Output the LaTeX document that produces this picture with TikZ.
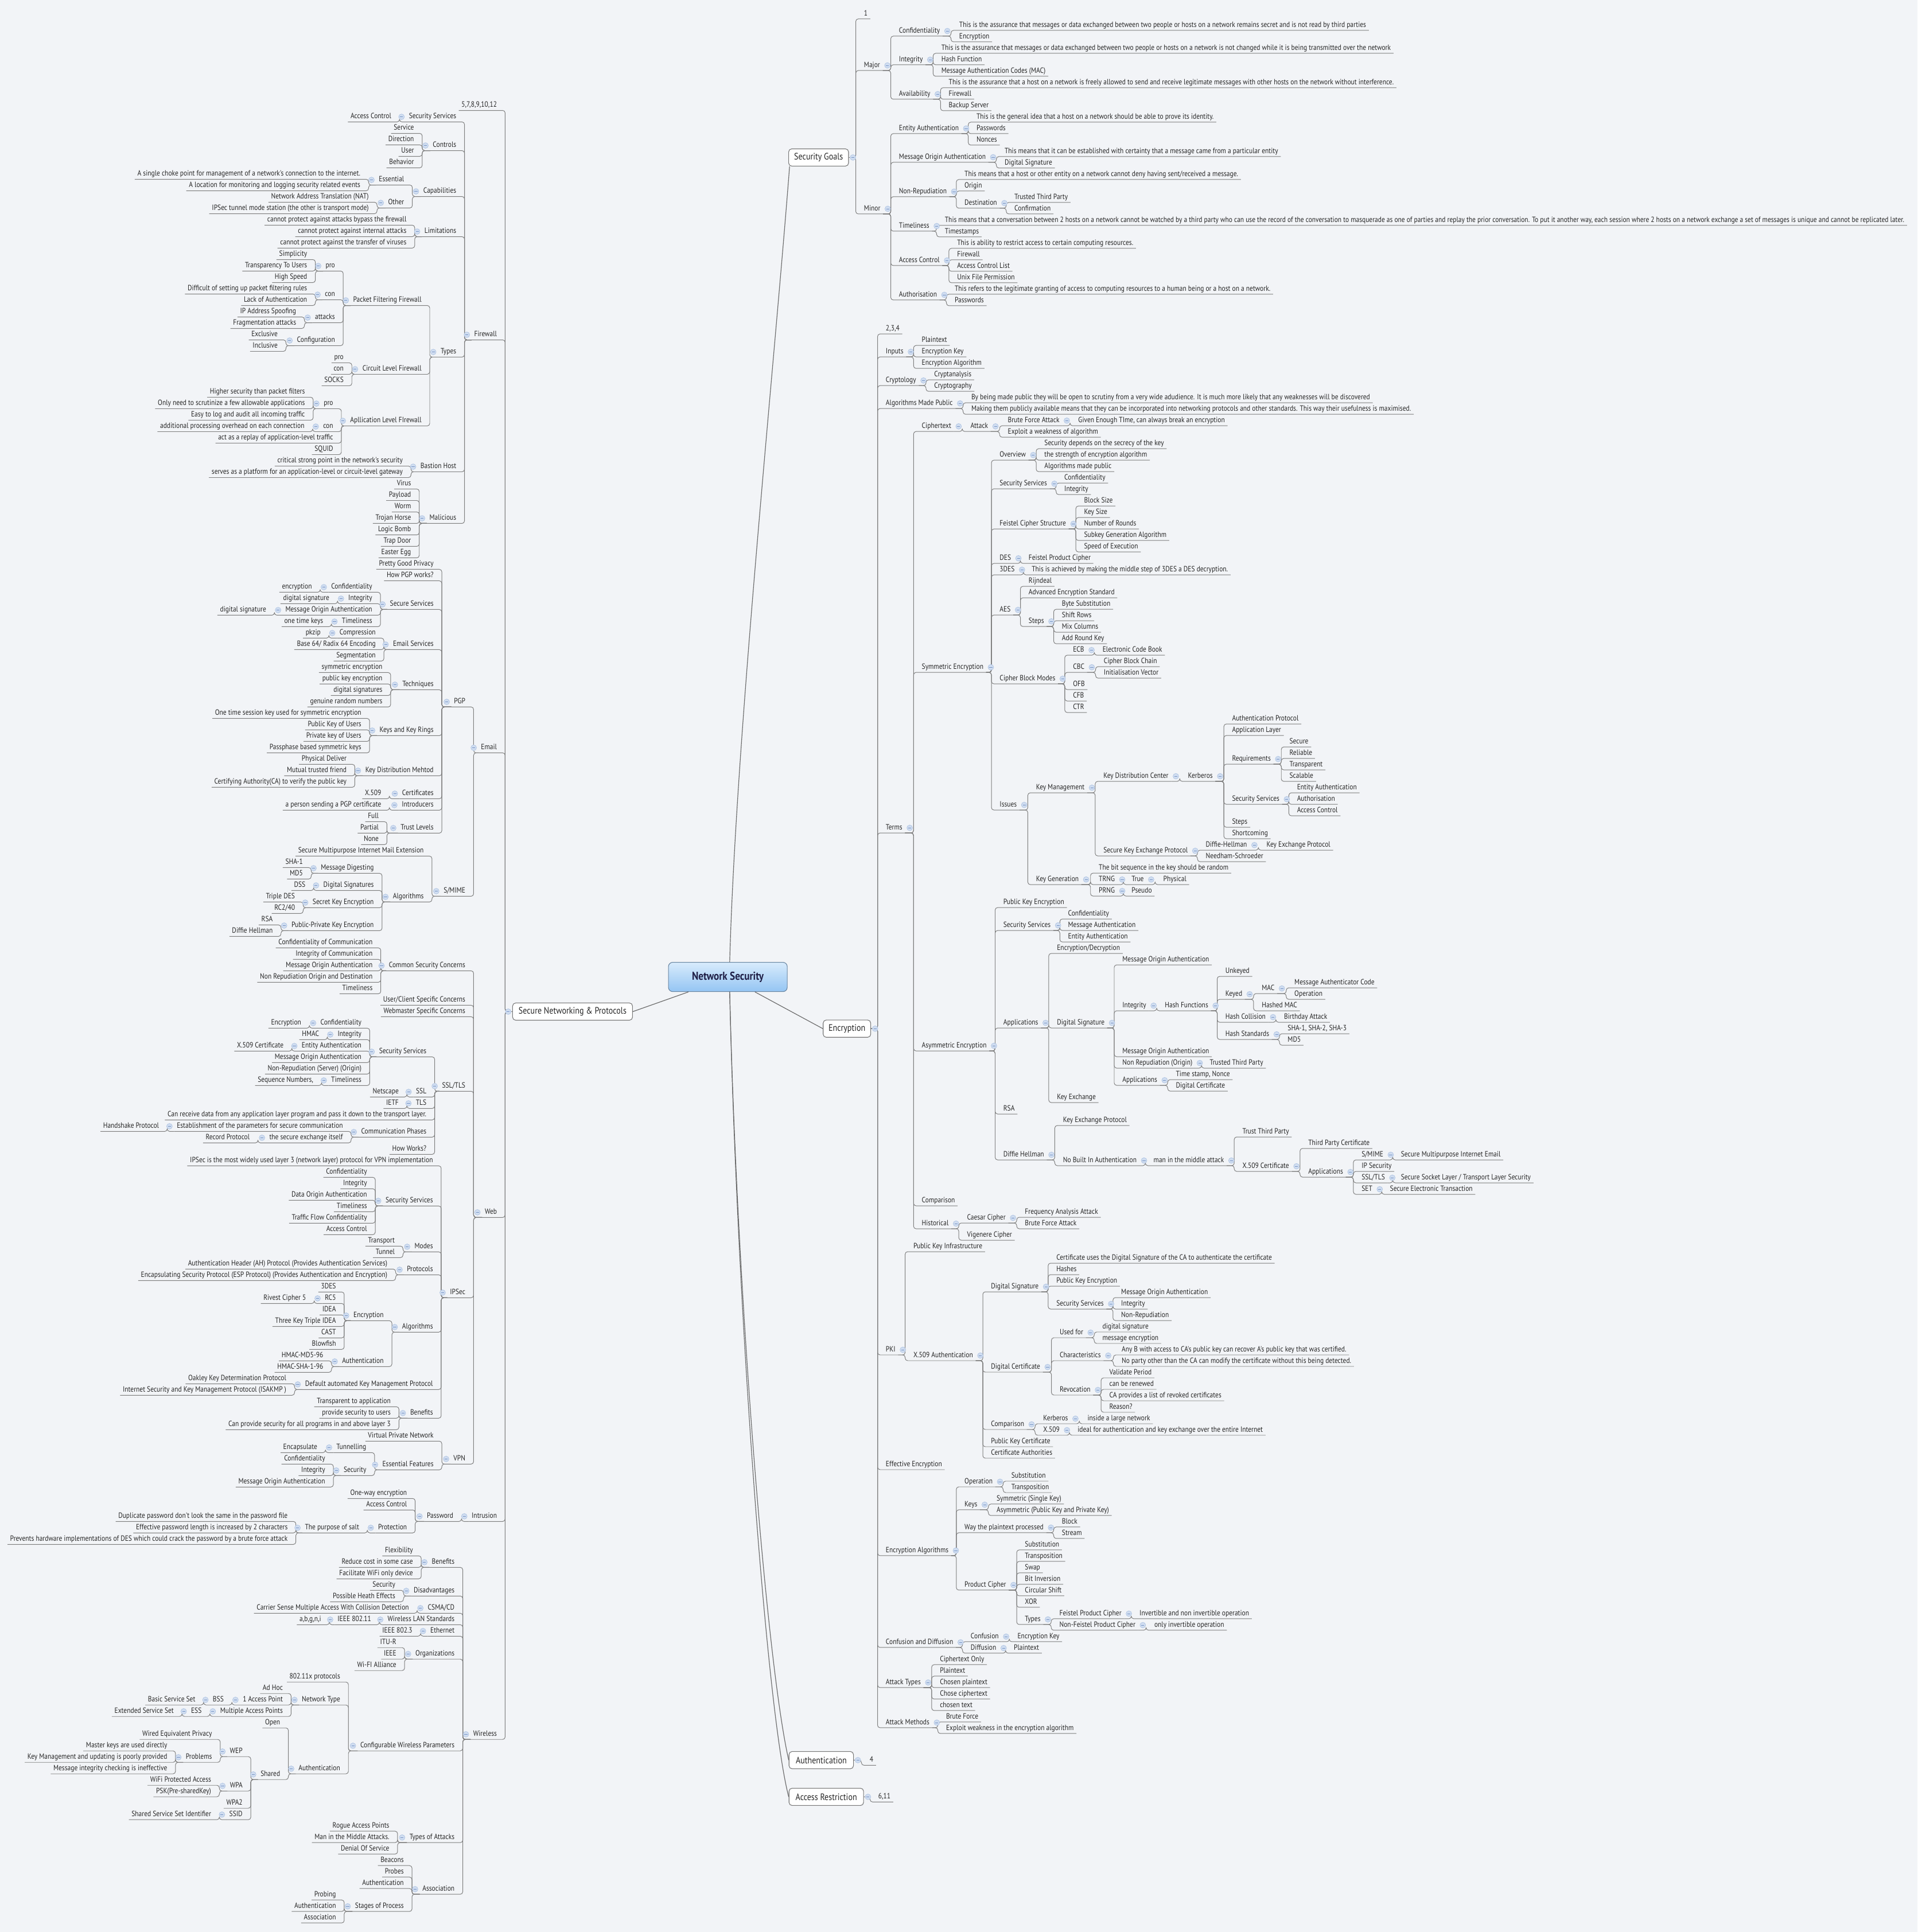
\documentclass[tikz,border=0pt]{standalone}
\usepackage{fontspec}
\usepackage{tikz}

\newfontfamily\mapfont{PT Sans}[FakeStretch=0.8616]

\definecolor{paper}{RGB}{242,244,247}
\definecolor{ink}{RGB}{38,38,38}
\definecolor{wirec}{RGB}{125,125,125}
\definecolor{knobfill}{RGB}{208,221,240}
\definecolor{knobedge}{RGB}{172,194,226}
\definecolor{knobbar}{RGB}{118,148,198}
\definecolor{nstop}{RGB}{216,235,252}
\definecolor{nsbot}{RGB}{148,197,243}
\definecolor{nsedge}{RGB}{104,132,160}
\definecolor{boxedge}{RGB}{118,118,118}

\newcommand{\leaffont}{\mapfont\fontsize{6.2}{7}\selectfont}

\tikzset{
  leaf/.style={inner xsep=2pt, inner ysep=1.2pt, text height=4.3pt, text depth=1.2pt, font=\leaffont, text=ink},
  rt/.style={leaf, anchor=west, xshift=-2pt},
  lt/.style={leaf, anchor=east, xshift=2pt},
  wire/.style={draw=wirec, line width=0.45pt, rounded corners=2pt},
  stem/.style={draw=wirec!85!black, line width=0.55pt},
  topic/.style={draw=boxedge, fill=white, rounded corners=2.5pt, line width=0.5pt, minimum height=14pt, inner sep=0pt, font=\mapfont\fontsize{7.6}{9}\selectfont, text=ink},
  hub/.style={draw=nsedge, top color=nstop, bottom color=nsbot, rounded corners=3.5pt, line width=0.5pt, minimum width=96.4pt, minimum height=23.8pt, font=\mapfont\bfseries\fontsize{9.3}{11}\selectfont, text=ink!85!blue},
  knob/.pic={\filldraw[fill=knobfill, draw=knobedge, line width=0.3pt] (0,0) circle (2.3pt);
             \draw[knobbar, line width=0.35pt] (-1.2pt,0pt) -- (1.2pt,0pt);}
}

% parent to children, elbow lines
\newcommand{\branchR}[2]{\foreach \kid in {#2} \draw[wire] (#1.south east) -| ([xshift=-4.5pt]\kid.south west) -- (\kid.south east);}
\newcommand{\branchL}[2]{\foreach \kid in {#2} \draw[wire] (#1.south west) -| ([xshift=4.5pt]\kid.south east) -- (\kid.south west);}

\begin{document}
\begin{tikzpicture}[x=1pt, y=-1pt]

\path[use as bounding box, fill=paper] (0,0) rectangle (1556,1568);

% main topics
\node[hub] (ns) at (590.6,792.9) {Network Security};
\node[topic, anchor=west, minimum width=48.6pt] (sg) at (639.7,127.8) {Security Goals};
\node[topic, anchor=west, minimum width=38.6pt] (enc) at (667.7,834.85) {Encryption};
\node[topic, anchor=east, minimum width=97.3pt] (snp) at (513.5,821) {Secure Networking \& Protocols};
\node[topic, anchor=west, minimum width=52.3pt] (auth) at (640,1428.5) {Authentication};
\node[topic, anchor=west, minimum width=60.5pt] (acr) at (640,1458.3) {Access Restriction};

\coordinate (sgp) at (sg.east);
\coordinate (encp) at (enc.east);
\coordinate (snpp) at (snp.west);
\coordinate (authp) at (auth.east);
\coordinate (acrp) at (acr.east);

% lines from the centre
\draw[stem] ([xshift=1.5pt]ns.north) .. controls (597,600) and (628,300) .. ([xshift=1pt]sg.south west);
\draw[stem] ([xshift=22pt]ns.south) -- (enc.west);
\draw[stem] ([xshift=-32pt]ns.south) -- (snp.east);
\draw[stem] ([xshift=1.5pt]ns.south) .. controls (598,1050) and (622,1350) .. (auth.west);
\draw[stem] ([xshift=1.5pt]ns.south) .. controls (598,1060) and (622,1390) .. (acr.west);

% ---------------- Security Goals ----------------
\begin{scope}[yshift=-11.2pt, y=-9.31pt]
  \node[rt] (g1)     at (700.9,0)    {1};
  \node[rt] (gmaj)   at (700.9,4.5)  {Major};
  \node[rt] (gconf)  at (729.3,1.5)  {Confidentiality};
  \node[rt] (gconfa) at (778.2,1)    {This is the assurance that messages or data exchanged between two people or hosts on a network remains secret and is not read by third parties};
  \node[rt] (gconfb) at (778.2,2)    {Encryption};
  \node[rt] (ginteg) at (729.3,4)    {Integrity};
  \node[rt] (gintega) at (763.7,3)   {This is the assurance that messages or data exchanged between two people or hosts on a network is not changed while it is being transmitted over the network};
  \node[rt] (gintegb) at (763.7,4)   {Hash Function};
  \node[rt] (gintegc) at (763.7,5)   {Message Authentication Codes (MAC)};
  \node[rt] (gavail) at (729.3,7)    {Availability};
  \node[rt] (gavaila) at (769.7,6)   {This is the assurance that a host on a network is freely allowed to send and receive legitimate messages with other hosts on the network without interference.};
  \node[rt] (gavailb) at (769.7,7)   {Firewall};
  \node[rt] (gavailc) at (769.7,8)   {Backup Server};
  \node[rt] (gmin)   at (700.9,17)   {Minor};
  \node[rt] (gent)   at (729.3,10)   {Entity Authentication};
  \node[rt] (genta)  at (792.2,9)    {This is the general idea that a host on a network should be able to prove its identity.};
  \node[rt] (gentb)  at (792.2,10)   {Passwords};
  \node[rt] (gentc)  at (792.2,11)   {Nonces};
  \node[rt] (gmoa)   at (729.3,12.5) {Message Origin Authentication};
  \node[rt] (gmoaa)  at (815,12)     {This means that it can be established with certainty that a message came from a particular entity};
  \node[rt] (gmoab)  at (815,13)     {Digital Signature};
  \node[rt] (gnr)    at (729.3,15.5) {Non-Repudiation};
  \node[rt] (gnra)   at (782.5,14)   {This means that a host or other entity on a network cannot deny having sent/received a message.};
  \node[rt] (gnrb)   at (782.5,15)   {Origin};
  \node[rt] (gdest)  at (782.5,16.5) {Destination};
  \node[rt] (gdesta) at (823,16)     {Trusted Third Party};
  \node[rt] (gdestb) at (823,17)     {Confirmation};
  \node[rt] (gtim)   at (729.3,18.5) {Timeliness};
  \node[rt] (gtima)  at (766.5,18)   {This means that a conversation between 2 hosts on a network cannot be watched by a third party who can use the record of the conversation to masquerade as one of parties and replay the prior conversation. To put it another way, each session where 2 hosts on a network exchange a set of messages is unique and cannot be replicated later.};
  \node[rt] (gtimb)  at (766.5,19)   {Timestamps};
  \node[rt] (gac)    at (729.3,21.5) {Access Control};
  \node[rt] (gaca)   at (776.5,20)   {This is ability to restrict access to certain computing resources.};
  \node[rt] (gacb)   at (776.5,21)   {Firewall};
  \node[rt] (gacc)   at (776.5,22)   {Access Control List};
  \node[rt] (gacd)   at (776.5,23)   {Unix File Permission};
  \node[rt] (gaut)   at (729.3,24.5) {Authorisation};
  \node[rt] (gauta)  at (774.5,24)   {This refers to the legitimate granting of access to computing resources to a human being or a host on a network.};
  \node[rt] (gautb)  at (774.5,25)   {Passwords};
\end{scope}

% ---------------- Encryption ----------------
\begin{scope}[yshift=-266.9pt, y=-9.31pt]
  \node[rt] (e234)  at (718.6,0)   {2,3,4};
  \node[rt] (einp)  at (718.6,2)   {Inputs};
  \node[rt] (einpa) at (747.8,1)   {Plaintext};
  \node[rt] (einpb) at (747.8,2)   {Encryption Key};
  \node[rt] (einpc) at (747.8,3)   {Encryption Algorithm};
  \node[rt] (ecry)  at (718.6,4.5) {Cryptology};
  \node[rt] (ecrya) at (757.9,4)   {Cryptanalysis};
  \node[rt] (ecryb) at (757.9,5)   {Cryptography};
  \node[rt] (eamp)  at (718.6,6.5) {Algorithms Made Public};
  \node[rt] (eampa) at (788,6)     {By being made public they will be open to scrutiny from a very wide adudience. It is much more likely that any weaknesses will be discovered};
  \node[rt] (eampb) at (788,7)     {Making them publicly available means that they can be incorporated into networking protocols and other standards. This way their usefulness is maximised.};
  \node[rt] (eterm) at (718.6,43.5) {Terms};
  % ciphertext
  \node[rt] (ecip)  at (747.8,8.5) {Ciphertext};
  \node[rt] (eatt)  at (787.3,8.5) {Attack};
  \node[rt] (ebfa)  at (817.6,8)   {Brute Force Attack};
  \node[rt] (ebfaa) at (874.8,8)   {Given Enough TIme, can always break an encryption};
  \node[rt] (eexp)  at (817.6,9)   {Exploit a weakness of algorithm};
  % symmetric
  \node[rt] (esym)  at (747.8,29.5) {Symmetric Encryption};
  \node[rt] (eov)   at (811,11)    {Overview};
  \node[rt] (eova)  at (847.3,10)  {Security depends on the secrecy of the key};
  \node[rt] (eovb)  at (847.3,11)  {the strength of encryption algorithm};
  \node[rt] (eovc)  at (847.3,12)  {Algorithms made public};
  \node[rt] (ess)   at (811,13.5)  {Security Services};
  \node[rt] (essa)  at (863.5,13)  {Confidentiality};
  \node[rt] (essb)  at (863.5,14)  {Integrity};
  \node[rt] (efei)  at (811,17)    {Feistel Cipher Structure};
  \node[rt] (efeia) at (879.5,15)  {Block Size};
  \node[rt] (efeib) at (879.5,16)  {Key Size};
  \node[rt] (efeic) at (879.5,17)  {Number of Rounds};
  \node[rt] (efeid) at (879.5,18)  {Subkey Generation Algorithm};
  \node[rt] (efeie) at (879.5,19)  {Speed of Execution};
  \node[rt] (edes)  at (811,20)    {DES};
  \node[rt] (edesa) at (834.5,20)  {Feistel Product Cipher};
  \node[rt] (e3des) at (811,21)    {3DES};
  \node[rt] (e3desa) at (837,21)   {This is achieved by making the middle step of 3DES a DES decryption.};
  \node[rt] (eaes)  at (811,24.5)  {AES};
  \node[rt] (eaesa) at (834.5,22)  {Rijndeal};
  \node[rt] (eaesb) at (834.5,23)  {Advanced Encryption Standard};
  \node[rt] (estep) at (834.5,25.5) {Steps};
  \node[rt] (estepa) at (861.5,24) {Byte Substitution};
  \node[rt] (estepb) at (861.5,25) {Shift Rows};
  \node[rt] (estepc) at (861.5,26) {Mix Columns};
  \node[rt] (estepd) at (861.5,27) {Add Round Key};
  \node[rt] (ecbm)  at (811,30.5)  {Cipher Block Modes};
  \node[rt] (eecb)  at (870.5,28)  {ECB};
  \node[rt] (eecba) at (894.5,28)  {Electronic Code Book};
  \node[rt] (ecbc)  at (870.5,29.5) {CBC};
  \node[rt] (ecbca) at (895.5,29)  {Cipher Block Chain};
  \node[rt] (ecbcb) at (895.5,30)  {Initialisation Vector};
  \node[rt] (eofb)  at (870.5,31)  {OFB};
  \node[rt] (ecfb)  at (870.5,32)  {CFB};
  \node[rt] (ectr)  at (870.5,33)  {CTR};
  \node[rt] (eiss)  at (811,41.5)  {Issues};
  \node[rt] (ekm)   at (840.5,40)  {Key Management};
  \node[rt] (ekdc)  at (895.2,39)  {Key Distribution Center};
  \node[rt] (ekrb)  at (963.8,39)  {Kerberos};
  \node[rt] (ekrba) at (999.6,34)  {Authentication Protocol};
  \node[rt] (ekrbb) at (999.6,35)  {Application Layer};
  \node[rt] (ereq)  at (999.6,37.5) {Requirements};
  \node[rt] (ereqa) at (1046.2,36) {Secure};
  \node[rt] (ereqb) at (1046.2,37) {Reliable};
  \node[rt] (ereqc) at (1046.2,38) {Transparent};
  \node[rt] (ereqd) at (1046.2,39) {Scalable};
  \node[rt] (ekss)  at (999.6,41)  {Security Services};
  \node[rt] (ekssa) at (1052.3,40) {Entity Authentication};
  \node[rt] (ekssb) at (1052.3,41) {Authorisation};
  \node[rt] (ekssc) at (1052.3,42) {Access Control};
  \node[rt] (ekrbc) at (999.6,43)  {Steps};
  \node[rt] (ekrbd) at (999.6,44)  {Shortcoming};
  \node[rt] (eske)  at (895.2,45.5) {Secure Key Exchange Protocol};
  \node[rt] (edh)   at (978.2,45)  {Diffie-Hellman};
  \node[rt] (edha)  at (1027.6,45) {Key Exchange Protocol};
  \node[rt] (enee)  at (978.2,46)  {Needham-Schroeder};
  \node[rt] (ekg)   at (840.5,48)  {Key Generation};
  \node[rt] (ekga)  at (891.4,47)  {The bit sequence in the key should be random};
  \node[rt] (etrng) at (891.4,48)  {TRNG};
  \node[rt] (etrue) at (918.1,48)  {True};
  \node[rt] (ephys) at (943.8,48)  {Physical};
  \node[rt] (eprng) at (891.4,49)  {PRNG};
  \node[rt] (epse)  at (918.1,49)  {Pseudo};
  % asymmetric
  \node[rt] (easym) at (747.8,62.5) {Asymmetric Encryption};
  \node[rt] (epke)  at (814,50)    {Public Key Encryption};
  \node[rt] (eass)  at (814,52)    {Security Services};
  \node[rt] (eassa) at (866.5,51)  {Confidentiality};
  \node[rt] (eassb) at (866.5,52)  {Message Authentication};
  \node[rt] (eassc) at (866.5,53)  {Entity Authentication};
  \node[rt] (eapp)  at (814,60.5)  {Applications};
  \node[rt] (eed)   at (857.5,54)  {Encryption/Decryption};
  \node[rt] (eds)   at (857.5,60.5) {Digital Signature};
  \node[rt] (edsa)  at (910.6,55)  {Message Origin Authentication};
  \node[rt] (eint)  at (910.6,59)  {Integrity};
  \node[rt] (ehf)   at (945.1,59)  {Hash Functions};
  \node[rt] (eunk)  at (994.2,56)  {Unkeyed};
  \node[rt] (ekey)  at (994.2,58)  {Keyed};
  \node[rt] (emac)  at (1023.7,57.5) {MAC};
  \node[rt] (emaca) at (1050.2,57) {Message Authenticator Code};
  \node[rt] (emacb) at (1050.2,58) {Operation};
  \node[rt] (ehmac) at (1023.7,59) {Hashed MAC};
  \node[rt] (ehc)   at (994.2,60)  {Hash Collision};
  \node[rt] (ehca)  at (1041.8,60) {Birthday Attack};
  \node[rt] (ehs)   at (994.2,61.5) {Hash Standards};
  \node[rt] (ehsa)  at (1044.7,61) {SHA-1, SHA-2, SHA-3};
  \node[rt] (ehsb)  at (1044.7,62) {MD5};
  \node[rt] (edsb)  at (910.6,63)  {Message Origin Authentication};
  \node[rt] (enr)   at (910.6,64)  {Non Repudiation (Origin)};
  \node[rt] (enra)  at (981.5,64)  {Trusted Third Party};
  \node[rt] (edsapp) at (910.6,65.5) {Applications};
  \node[rt] (edsappa) at (954,65)  {Time stamp, Nonce};
  \node[rt] (edsappb) at (954,66)  {Digital Certificate};
  \node[rt] (ekx)   at (857.5,67)  {Key Exchange};
  \node[rt] (ersa)  at (814,68)    {RSA};
  \node[rt] (edhm)  at (814,72)    {Diffie Hellman};
  \node[rt] (edhma) at (862.4,69)  {Key Exchange Protocol};
  \node[rt] (enba)  at (862.4,72.5) {No Built In Authentication};
  \node[rt] (emitm) at (935.9,72.5) {man in the middle attack};
  \node[rt] (ettp)  at (1008,70)   {Trust Third Party};
  \node[rt] (ex509) at (1008,73)   {X.509 Certificate};
  \node[rt] (ex509a) at (1061.4,71) {Third Party Certificate};
  \node[rt] (ex509app) at (1061.4,73.5) {Applications};
  \node[rt] (esmime) at (1104.7,72) {S/MIME};
  \node[rt] (esmimea) at (1136.6,72) {Secure Multipurpose Internet Email};
  \node[rt] (eips)  at (1104.7,73) {IP Security};
  \node[rt] (essl)  at (1104.7,74) {SSL/TLS};
  \node[rt] (essla) at (1136.6,74) {Secure Socket Layer / Transport Layer Security};
  \node[rt] (eset)  at (1104.7,75) {SET};
  \node[rt] (eseta) at (1127.7,75) {Secure Electronic Transaction};
  \node[rt] (ecmp)  at (747.8,76)  {Comparison};
  \node[rt] (ehist) at (747.8,78)  {Historical};
  \node[rt] (ecae)  at (784.5,77.5) {Caesar Cipher};
  \node[rt] (ecaea) at (831.5,77)  {Frequency Analysis Attack};
  \node[rt] (ecaeb) at (831.5,78)  {Brute Force Attack};
  \node[rt] (evig)  at (784.5,79)  {Vigenere Cipher};
  % PKI
  \node[rt] (epki)  at (718.6,89)  {PKI};
  \node[rt] (epkia) at (741,80)    {Public Key Infrastructure};
  \node[rt] (ex5a)  at (741,89.5)  {X.509 Authentication};
  \node[rt] (epds)  at (804,83.5)  {Digital Signature};
  \node[rt] (epdsa) at (857,81)    {Certificate uses the Digital Signature of the CA to authenticate the certificate};
  \node[rt] (epdsb) at (857,82)    {Hashes};
  \node[rt] (epdsc) at (857,83)    {Public Key Encryption};
  \node[rt] (epss)  at (857,85)    {Security Services};
  \node[rt] (epssa) at (909.6,84)  {Message Origin Authentication};
  \node[rt] (epssb) at (909.6,85)  {Integrity};
  \node[rt] (epssc) at (909.6,86)  {Non-Repudiation};
  \node[rt] (epdc)  at (804,90.5)  {Digital Certificate};
  \node[rt] (euse)  at (859.7,87.5) {Used for};
  \node[rt] (eusea) at (894.4,87)  {digital signature};
  \node[rt] (euseb) at (894.4,88)  {message encryption};
  \node[rt] (echr)  at (859.7,89.5) {Characteristics};
  \node[rt] (echra) at (910,89)    {Any B with access to CA's public key can recover A's public key that was certified.};
  \node[rt] (echrb) at (910,90)    {No party other than the CA can modify the certificate without this being detected.};
  \node[rt] (erev)  at (859.7,92.5) {Revocation};
  \node[rt] (ereva) at (900,91)    {Validate Period};
  \node[rt] (erevb) at (900,92)    {can be renewed};
  \node[rt] (erevc) at (900,93)    {CA provides a list of revoked certificates};
  \node[rt] (erevd) at (900,94)    {Reason?};
  \node[rt] (epcmp) at (804,95.5)  {Comparison};
  \node[rt] (epker) at (846.4,95)  {Kerberos};
  \node[rt] (epkera) at (882.3,95) {inside a large network};
  \node[rt] (epx)   at (846.4,96)  {X.509};
  \node[rt] (epxa)  at (874.3,96)  {ideal for authentication and key exchange over the entire Internet};
  \node[rt] (epkc)  at (804,97)    {Public Key Certificate};
  \node[rt] (epca)  at (804,98)    {Certificate Authorities};
  % the rest
  \node[rt] (eeff)  at (718.6,99)  {Effective Encryption};
  \node[rt] (ealg)  at (718.6,106.5) {Encryption Algorithms};
  \node[rt] (eop)   at (782.5,100.5) {Operation};
  \node[rt] (eopa)  at (820.5,100) {Substitution};
  \node[rt] (eopb)  at (820.5,101) {Transposition};
  \node[rt] (ekeys) at (782.5,102.5) {Keys};
  \node[rt] (ekeysa) at (808.5,102) {Symmetric (Single Key)};
  \node[rt] (ekeysb) at (808.5,103) {Asymmetric (Public Key and Private Key)};
  \node[rt] (eway)  at (782.5,104.5) {Way the plaintext processed};
  \node[rt] (ewaya) at (861.5,104) {Block};
  \node[rt] (ewayb) at (861.5,105) {Stream};
  \node[rt] (eprod) at (782.5,109.5) {Product Cipher};
  \node[rt] (eproda) at (831.5,106) {Substitution};
  \node[rt] (eprodb) at (831.5,107) {Transposition};
  \node[rt] (eprodc) at (831.5,108) {Swap};
  \node[rt] (eprodd) at (831.5,109) {Bit Inversion};
  \node[rt] (eprode) at (831.5,110) {Circular Shift};
  \node[rt] (eprodf) at (831.5,111) {XOR};
  \node[rt] (etyp)  at (831.5,112.5) {Types};
  \node[rt] (efpc)  at (859.5,112) {Feistel Product Cipher};
  \node[rt] (efpca) at (924.5,112) {Invertible and non invertible operation};
  \node[rt] (enfpc) at (859.5,113) {Non-Feistel Product Cipher};
  \node[rt] (enfpca) at (936.5,113) {only invertible operation};
  \node[rt] (ecd)   at (718.6,114.5) {Confusion and Diffusion};
  \node[rt] (econf) at (787.5,114) {Confusion};
  \node[rt] (econfa) at (825.5,114) {Encryption Key};
  \node[rt] (ediff) at (787.5,115) {Diffusion};
  \node[rt] (ediffa) at (822.5,115) {Plaintext};
  \node[rt] (eat)   at (718.6,118) {Attack Types};
  \node[rt] (eata)  at (762.5,116) {Ciphertext Only};
  \node[rt] (eatb)  at (762.5,117) {Plaintext};
  \node[rt] (eatc)  at (762.5,118) {Chosen plaintext};
  \node[rt] (eatd)  at (762.5,119) {Chose ciphertext};
  \node[rt] (eate)  at (762.5,120) {chosen text};
  \node[rt] (eam)   at (718.6,121.5) {Attack Methods};
  \node[rt] (eama)  at (767.5,121) {Brute Force};
  \node[rt] (eamb)  at (767.5,122) {Exploit weakness in the encryption algorithm};
\end{scope}

% Authentication, Access Restriction
\node[rt] (a4) at (705.5,1428.5) {4};
\node[rt] (a611) at (712.5,1458.3) {6,11};

% ---------------- Secure Networking & Protocols ----------------
\begin{scope}[yshift=-85.5pt, y=-9.31pt]
  \node[lt] (s0)    at (403.4,0)   {5,7,8,9,10,12};
  % firewall
  \node[lt] (sfw)   at (403.4,20)  {Firewall};
  \node[lt] (sss)   at (370.4,1)   {Security Services};
  \node[lt] (sssa)  at (317.7,1)   {Access Control};
  \node[lt] (sctl)  at (370.4,3.5) {Controls};
  \node[lt] (sctla) at (336.1,2)   {Service};
  \node[lt] (sctlb) at (336.1,3)   {Direction};
  \node[lt] (sctlc) at (336.1,4)   {User};
  \node[lt] (sctld) at (336.1,5)   {Behavior};
  \node[lt] (scap)  at (370.4,7.5) {Capabilities};
  \node[lt] (sess)  at (328.1,6.5) {Essential};
  \node[lt] (sessa) at (292.6,6)   {A single choke point for management of a network's connection to the internet.};
  \node[lt] (sessb) at (292.6,7)   {A location for monitoring and logging security related events};
  \node[lt] (soth)  at (328.1,8.5) {Other};
  \node[lt] (sotha) at (299.4,8)   {Network Address Translation (NAT)};
  \node[lt] (sothb) at (299.4,9)   {IPSec tunnel mode station (the other is transport mode)};
  \node[lt] (slim)  at (370.4,11)  {Limitations};
  \node[lt] (slima) at (330,10)    {cannot protect against attacks bypass the firewall};
  \node[lt] (slimb) at (330,11)    {cannot protect against internal attacks};
  \node[lt] (slimc) at (330,12)    {cannot protect against the transfer of viruses};
  \node[lt] (styp)  at (370.4,21.5) {Types};
  \node[lt] (spff)  at (342.2,17)  {Packet Filtering Firewall};
  \node[lt] (spro)  at (272,14)    {pro};
  \node[lt] (sproa) at (249.4,13)  {Simplicity};
  \node[lt] (sprob) at (249.4,14)  {Transparency To Users};
  \node[lt] (sproc) at (249.4,15)  {High Speed};
  \node[lt] (scon)  at (272,16.5)  {con};
  \node[lt] (scona) at (249.4,16)  {Difficult of setting up packet filtering rules};
  \node[lt] (sconb) at (249.4,17)  {Lack of Authentication};
  \node[lt] (satt)  at (272,18.5)  {attacks};
  \node[lt] (satta) at (240.5,18)  {IP Address Spoofing};
  \node[lt] (sattb) at (240.5,19)  {Fragmentation attacks};
  \node[lt] (scfg)  at (272,20.5)  {Configuration};
  \node[lt] (scfga) at (225.5,20)  {Exclusive};
  \node[lt] (scfgb) at (225.5,21)  {Inclusive};
  \node[lt] (sclf)  at (342.2,23)  {Circuit Level Firewall};
  \node[lt] (sclfa) at (279,22)    {pro};
  \node[lt] (sclfb) at (279,23)    {con};
  \node[lt] (sclfc) at (279,24)    {SOCKS};
  \node[lt] (salf)  at (342.2,27.5) {Apllication Level FIrewall};
  \node[lt] (salfp) at (270.5,26)  {pro};
  \node[lt] (salfpa) at (247.6,25) {Higher security than packet filters};
  \node[lt] (salfpb) at (247.6,26) {Only need to scrutinize a few allowable applications};
  \node[lt] (salfpc) at (247.6,27) {Easy to log and audit all incoming traffic};
  \node[lt] (salfc) at (270.5,28)  {con};
  \node[lt] (salfca) at (247.2,28) {additional processing overhead on each connection};
  \node[lt] (salfd) at (270.5,29)  {act as a replay of application-level traffic};
  \node[lt] (salfe) at (270.5,30)  {SQUID};
  \node[lt] (sbh)   at (370.4,31.5) {Bastion Host};
  \node[lt] (sbha)  at (327,31)    {critical strong point in the network's security};
  \node[lt] (sbhb)  at (327,32)    {serves as a platform for an application-level or circuit-level gateway};
  \node[lt] (smal)  at (370.4,36)  {Malicious};
  \node[lt] (smala) at (333.7,33)  {Virus};
  \node[lt] (smalb) at (333.7,34)  {Payload};
  \node[lt] (smalc) at (333.7,35)  {Worm};
  \node[lt] (smald) at (333.7,36)  {Trojan Horse};
  \node[lt] (smale) at (333.7,37)  {Logic Bomb};
  \node[lt] (smalf) at (333.7,38)  {Trap Door};
  \node[lt] (smalg) at (333.7,39)  {Easter Egg};
  % email
  \node[lt] (sem)   at (403.4,56)  {Email};
  \node[lt] (spgp)  at (377.8,52)  {PGP};
  \node[lt] (spgpa) at (352,40)    {Pretty Good Privacy};
  \node[lt] (spgpb) at (352,41)    {How PGP works?};
  \node[lt] (ssec)  at (352,43.5)  {Secure Services};
  \node[lt] (ssconf) at (302.2,42) {Confidentiality};
  \node[lt] (ssconfa) at (253.3,42) {encryption};
  \node[lt] (ssint) at (302.2,43)  {Integrity};
  \node[lt] (ssinta) at (267.4,43) {digital signature};
  \node[lt] (ssmoa) at (302.2,44)  {Message Origin Authentication};
  \node[lt] (ssmoaa) at (216.2,44) {digital signature};
  \node[lt] (sstim) at (302.2,45)  {Timeliness};
  \node[lt] (sstima) at (262.4,45) {one time keys};
  \node[lt] (sesv)  at (352,47)    {Email Services};
  \node[lt] (scomp) at (305,46)    {Compression};
  \node[lt] (scompa) at (260.4,46) {pkzip};
  \node[lt] (sesvb) at (305,47)    {Base 64/ Radix 64 Encoding};
  \node[lt] (sesvc) at (305,48)    {Segmentation};
  \node[lt] (stech) at (352,50.5)  {Techniques};
  \node[lt] (stecha) at (310.5,49) {symmetric encryption};
  \node[lt] (stechb) at (310.5,50) {public key encryption};
  \node[lt] (stechc) at (310.5,51) {digital signatures};
  \node[lt] (stechd) at (310.5,52) {genuine random numbers};
  \node[lt] (skkr)  at (352,54.5)  {Keys and Key Rings};
  \node[lt] (skkra) at (293.4,53)  {One time session key used for symmetric encryption};
  \node[lt] (skkrb) at (293.4,54)  {Public Key of Users};
  \node[lt] (skkrc) at (293.4,55)  {Private key of Users};
  \node[lt] (skkrd) at (293.4,56)  {Passphase based symmetric keys};
  \node[lt] (skdm)  at (352,58)    {Key Distribution Mehtod};
  \node[lt] (skdma) at (281.4,57)  {Physical Deliver};
  \node[lt] (skdmb) at (281.4,58)  {Mutual trusted friend};
  \node[lt] (skdmc) at (281.4,59)  {Certifying Authority(CA) to verify the public key};
  \node[lt] (scert) at (352,60)    {Certificates};
  \node[lt] (scerta) at (309.5,60) {X.509};
  \node[lt] (sintr) at (352,61)    {Introducers};
  \node[lt] (sintra) at (309.5,61) {a person sending a PGP certificate};
  \node[lt] (strust) at (352,63)   {Trust Levels};
  \node[lt] (strusta) at (307.5,62) {Full};
  \node[lt] (strustb) at (307.5,63) {Partial};
  \node[lt] (strustc) at (307.5,64) {None};
  \node[lt] (ssmime) at (377.8,68.5) {S/MIME};
  \node[lt] (ssmimea) at (344,65)  {Secure Multipurpose Internet Mail Extension};
  \node[lt] (salg)  at (344,69)    {Algorithms};
  \node[lt] (smd)   at (303.5,66.5) {Message Digesting};
  \node[lt] (smda)  at (246,66)    {SHA-1};
  \node[lt] (smdb)  at (246,67)    {MD5};
  \node[lt] (sds)   at (303.5,68)  {Digital Signatures};
  \node[lt] (sdsa)  at (248,68)    {DSS};
  \node[lt] (sske)  at (303.5,69.5) {Secret Key Encryption};
  \node[lt] (sskea) at (239.5,69)  {Triple DES};
  \node[lt] (sskeb) at (239.5,70)  {RC2/40};
  \node[lt] (sppk)  at (303.5,71.5) {Public-Private Key Encryption};
  \node[lt] (sppka) at (221.5,71)  {RSA};
  \node[lt] (sppkb) at (221.5,72)  {Diffie Hellman};
  % web
  \node[lt] (sweb)  at (403.4,96.5) {Web};
  \node[lt] (scsc)  at (377.8,75)  {Common Security Concerns};
  \node[lt] (scsca) at (302.5,73)  {Confidentiality of Communication};
  \node[lt] (scscb) at (302.5,74)  {Integrity of Communication};
  \node[lt] (scscc) at (302.5,75)  {Message Origin Authentication};
  \node[lt] (scscd) at (302.5,76)  {Non Repudiation Origin and Destination};
  \node[lt] (scsce) at (302.5,77)  {Timeliness};
  \node[lt] (sucs)  at (377.8,78)  {User/Client Specific Concerns};
  \node[lt] (swsc)  at (377.8,79)  {Webmaster Specific Concerns};
  \node[lt] (sssl)  at (377.8,85.5) {SSL/TLS};
  \node[lt] (stss)  at (346.2,82.5) {Security Services};
  \node[lt] (stconf) at (293.5,80) {Confidentiality};
  \node[lt] (stconfa) at (244.6,80) {Encryption};
  \node[lt] (stint) at (293.5,81)  {Integrity};
  \node[lt] (stinta) at (259.1,81) {HMAC};
  \node[lt] (stea)  at (293.5,82)  {Entity Authentication};
  \node[lt] (steaa) at (230.3,82)  {X.509 Certificate};
  \node[lt] (stmoa) at (293.5,83)  {Message Origin Authentication};
  \node[lt] (stnr)  at (293.5,84)  {Non-Repudiation (Server) (Origin)};
  \node[lt] (sttim) at (293.5,85)  {Timeliness};
  \node[lt] (sttima) at (254.4,85) {Sequence Numbers,};
  \node[lt] (sssl2) at (346.2,86)  {SSL};
  \node[lt] (sssl2a) at (323.7,86) {Netscape};
  \node[lt] (stls)  at (346.2,87)  {TLS};
  \node[lt] (stlsa) at (323.7,87)  {IETF};
  \node[lt] (scrd)  at (346.2,88)  {Can receive data from any application layer program and pass it down to the transport layer.};
  \node[lt] (scp)   at (346.2,89.5) {Communication Phases};
  \node[lt] (scpa)  at (278.4,89)  {Establishment of the parameters for secure communication};
  \node[lt] (scpaa) at (129.2,89)  {Handshake Protocol};
  \node[lt] (scpb)  at (278.4,90)  {the secure exchange itself};
  \node[lt] (scpba) at (202.8,90)  {Record Protocol};
  \node[lt] (show)  at (346.2,91)  {How Works?};
  \node[lt] (sips)  at (377.8,103.5) {IPSec};
  \node[lt] (sipsa) at (351.5,92)  {IPSec is the most widely used layer 3 (network layer) protocol for VPN implementation};
  \node[lt] (sipss) at (351.5,95.5) {Security Services};
  \node[lt] (sipssa) at (298,93)   {Confidentiality};
  \node[lt] (sipssb) at (298,94)   {Integrity};
  \node[lt] (sipssc) at (298,95)   {Data Origin Authentication};
  \node[lt] (sipssd) at (298,96)   {Timeliness};
  \node[lt] (sipsse) at (298,97)   {Traffic Flow Confidentiality};
  \node[lt] (sipssf) at (298,98)   {Access Control};
  \node[lt] (smod)  at (351.5,99.5) {Modes};
  \node[lt] (smoda) at (320.5,99)  {Transport};
  \node[lt] (smodb) at (320.5,100) {Tunnel};
  \node[lt] (sprot) at (351.5,101.5) {Protocols};
  \node[lt] (sprota) at (314.5,101) {Authentication Header (AH) Protocol (Provides Authentication Services)};
  \node[lt] (sprotb) at (314.5,102) {Encapsulating Security Protocol (ESP Protocol) (Provides Authentication and Encryption)};
  \node[lt] (sialg) at (351.5,106.5) {Algorithms};
  \node[lt] (sienc) at (311.5,105.5) {Encryption};
  \node[lt] (sienca) at (272.8,103) {3DES};
  \node[lt] (src5)  at (272.8,104) {RC5};
  \node[lt] (src5a) at (248.5,104) {Rivest Cipher 5};
  \node[lt] (siencc) at (272.8,105) {IDEA};
  \node[lt] (sie4)  at (272.8,106) {Three Key Triple IDEA};
  \node[lt] (sie5)  at (272.8,107) {CAST};
  \node[lt] (sie6)  at (272.8,108) {Blowfish};
  \node[lt] (siauth) at (311.5,109.5) {Authentication};
  \node[lt] (siautha) at (262.5,109) {HMAC-MD5-96};
  \node[lt] (siauthb) at (262.5,110) {HMAC-SHA-1-96};
  \node[lt] (sdak)  at (351.5,111.5) {Default automated Key Management Protocol};
  \node[lt] (sdaka) at (232.5,111) {Oakley Key Determination Protocol};
  \node[lt] (sdakb) at (232.5,112) {Internet Security and Key Management Protocol (ISAKMP )};
  \node[lt] (sben)  at (351.5,114) {Benefits};
  \node[lt] (sbena) at (317.2,113) {Transparent to application};
  \node[lt] (sbenb) at (317.2,114) {provide security to users};
  \node[lt] (sbenc) at (317.2,115) {Can provide security for all programs in and above layer 3};
  \node[lt] (svpn)  at (377.8,118) {VPN};
  \node[lt] (svpna) at (352,116)   {Virtual Private Network};
  \node[lt] (sef)   at (352,118.5) {Essential Features};
  \node[lt] (stun)  at (297.4,117) {Tunnelling};
  \node[lt] (stuna) at (257.6,117) {Encapsulate};
  \node[lt] (ssecu) at (297.4,119) {Security};
  \node[lt] (ssecua) at (264,118)  {Confidentiality};
  \node[lt] (ssecub) at (264,119)  {Integrity};
  \node[lt] (ssecuc) at (264,120)  {Message Origin Authentication};
  % intrusion
  \node[lt] (sint)  at (403.4,123) {Intrusion};
  \node[lt] (spw)   at (368,123)   {Password};
  \node[lt] (spwa)  at (330.4,121) {One-way encryption};
  \node[lt] (spwb)  at (330.4,122) {Access Control};
  \node[lt] (sprt)  at (330.4,124) {Protection};
  \node[lt] (ssalt) at (291.6,124) {The purpose of salt};
  \node[lt] (ssalta) at (233.6,123) {Duplicate password don't look the same in the password file};
  \node[lt] (ssaltb) at (233.6,124) {Effective password length is increased by 2 characters};
  \node[lt] (ssaltc) at (233.6,125) {Prevents hardware implementations of DES which could crack the password by a brute force attack};
  % wireless
  \node[lt] (swl)   at (403.4,142) {Wireless};
  \node[lt] (swben) at (369,127)   {Benefits};
  \node[lt] (swbena) at (335.3,126) {Flexibility};
  \node[lt] (swbenb) at (335.3,127) {Reduce cost in some case};
  \node[lt] (swbenc) at (335.3,128) {Facilitate WiFi only device};
  \node[lt] (sdis)  at (369,129.5) {Disadvantages};
  \node[lt] (sdisa) at (320.9,129) {Security};
  \node[lt] (sdisb) at (320.9,130) {Possible Heath Effects};
  \node[lt] (scsma) at (369,131)   {CSMA/CD};
  \node[lt] (scsmaa) at (332,131)  {Carrier Sense Multiple Access With Collision Detection};
  \node[lt] (swls)  at (369,132)   {Wireless LAN Standards};
  \node[lt] (sieee) at (301.4,132) {IEEE 802.11};
  \node[lt] (sieeea) at (260.8,132) {a,b,g,n,i};
  \node[lt] (seth)  at (369,133)   {Ethernet};
  \node[lt] (setha) at (334.8,133) {IEEE 802.3};
  \node[lt] (sorg)  at (369,135)   {Organizations};
  \node[lt] (sorga) at (321.8,134) {ITU-R};
  \node[lt] (sorgb) at (321.8,135) {IEEE};
  \node[lt] (sorgc) at (321.8,136) {Wi-FI Alliance};
  \node[lt] (scwp)  at (369,143)   {Configurable Wireless Parameters};
  \node[lt] (scwpa) at (276.2,137) {802.11x protocols};
  \node[lt] (snt)   at (276.2,139) {Network Type};
  \node[lt] (snta)  at (229.7,138) {Ad Hoc};
  \node[lt] (s1ap)  at (229.7,139) {1 Access Point};
  \node[lt] (sbss)  at (181.7,139) {BSS};
  \node[lt] (sbssa) at (158.7,139) {Basic Service Set};
  \node[lt] (smap)  at (229.7,140) {Multiple Access Points};
  \node[lt] (sesx)  at (163.8,140) {ESS};
  \node[lt] (sesxa) at (141.2,140) {Extended Service Set};
  \node[lt] (sauth) at (276.2,145) {Authentication};
  \node[lt] (sopen) at (227.5,141) {Open};
  \node[lt] (sshr)  at (227.5,145.5) {Shared};
  \node[lt] (swep)  at (197,143.5) {WEP};
  \node[lt] (swepa) at (172.2,142) {Wired Equivalent Privacy};
  \node[lt] (swprb) at (172.2,144) {Problems};
  \node[lt] (swprba) at (135.9,143) {Master keys are used directly};
  \node[lt] (swprbb) at (135.9,144) {Key Management and updating is poorly provided};
  \node[lt] (swprbc) at (135.9,145) {Message integrity checking is ineffective};
  \node[lt] (swpa)  at (197,146.5) {WPA};
  \node[lt] (swpaa) at (171.5,146) {WiFi Protected Access};
  \node[lt] (swpab) at (171.5,147) {PSK(Pre-sharedKey)};
  \node[lt] (swpa2) at (197,148)   {WPA2};
  \node[lt] (sssid) at (197,149)   {SSID};
  \node[lt] (sssida) at (171.5,149) {Shared Service Set Identifier};
  \node[lt] (stoa)  at (369,151)   {Types of Attacks};
  \node[lt] (stoaa) at (316.1,150) {Rogue Access Points};
  \node[lt] (stoab) at (316.1,151) {Man in the Middle Attacks.};
  \node[lt] (stoac) at (316.1,152) {Denial Of Service};
  \node[lt] (sass)  at (369,155.5) {Association};
  \node[lt] (sassa) at (327.8,153) {Beacons};
  \node[lt] (sassb) at (327.8,154) {Probes};
  \node[lt] (sassc) at (327.8,155) {Authentication};
  \node[lt] (sstg)  at (327.8,157) {Stages of Process};
  \node[lt] (sstga) at (272.8,156) {Probing};
  \node[lt] (sstgb) at (272.8,157) {Authentication};
  \node[lt] (sstgc) at (272.8,158) {Association};
\end{scope}

% ---------------- connectors, right side ----------------
\branchR{sgp}{g1,gmaj,gmin}
\branchR{gmaj}{gconf,ginteg,gavail}
\branchR{gconf}{gconfa,gconfb}
\branchR{ginteg}{gintega,gintegb,gintegc}
\branchR{gavail}{gavaila,gavailb,gavailc}
\branchR{gmin}{gent,gmoa,gnr,gtim,gac,gaut}
\branchR{gent}{genta,gentb,gentc}
\branchR{gmoa}{gmoaa,gmoab}
\branchR{gnr}{gnra,gnrb,gdest}
\branchR{gdest}{gdesta,gdestb}
\branchR{gtim}{gtima,gtimb}
\branchR{gac}{gaca,gacb,gacc,gacd}
\branchR{gaut}{gauta,gautb}

\branchR{encp}{e234,einp,ecry,eamp,eterm,epki,eeff,ealg,ecd,eat,eam}
\branchR{einp}{einpa,einpb,einpc}
\branchR{ecry}{ecrya,ecryb}
\branchR{eamp}{eampa,eampb}
\branchR{eterm}{ecip,esym,easym,ecmp,ehist}
\branchR{ecip}{eatt}
\branchR{eatt}{ebfa,eexp}
\branchR{ebfa}{ebfaa}
\branchR{esym}{eov,ess,efei,edes,e3des,eaes,ecbm,eiss}
\branchR{eov}{eova,eovb,eovc}
\branchR{ess}{essa,essb}
\branchR{efei}{efeia,efeib,efeic,efeid,efeie}
\branchR{edes}{edesa}
\branchR{e3des}{e3desa}
\branchR{eaes}{eaesa,eaesb,estep}
\branchR{estep}{estepa,estepb,estepc,estepd}
\branchR{ecbm}{eecb,ecbc,eofb,ecfb,ectr}
\branchR{eecb}{eecba}
\branchR{ecbc}{ecbca,ecbcb}
\branchR{eiss}{ekm,ekg}
\branchR{ekm}{ekdc,eske}
\branchR{ekdc}{ekrb}
\branchR{ekrb}{ekrba,ekrbb,ereq,ekss,ekrbc,ekrbd}
\branchR{ereq}{ereqa,ereqb,ereqc,ereqd}
\branchR{ekss}{ekssa,ekssb,ekssc}
\branchR{eske}{edh,enee}
\branchR{edh}{edha}
\branchR{ekg}{ekga,etrng,eprng}
\branchR{etrng}{etrue}
\branchR{etrue}{ephys}
\branchR{eprng}{epse}
\branchR{easym}{epke,eass,eapp,ersa,edhm}
\branchR{eass}{eassa,eassb,eassc}
\branchR{eapp}{eed,eds,ekx}
\branchR{eds}{edsa,eint,edsb,enr,edsapp}
\branchR{eint}{ehf}
\branchR{ehf}{eunk,ekey,ehc,ehs}
\branchR{ekey}{emac,ehmac}
\branchR{emac}{emaca,emacb}
\branchR{ehc}{ehca}
\branchR{ehs}{ehsa,ehsb}
\branchR{enr}{enra}
\branchR{edsapp}{edsappa,edsappb}
\branchR{edhm}{edhma,enba}
\branchR{enba}{emitm}
\branchR{emitm}{ettp,ex509}
\branchR{ex509}{ex509a,ex509app}
\branchR{ex509app}{esmime,eips,essl,eset}
\branchR{esmime}{esmimea}
\branchR{essl}{essla}
\branchR{eset}{eseta}
\branchR{ehist}{ecae,evig}
\branchR{ecae}{ecaea,ecaeb}
\branchR{epki}{epkia,ex5a}
\branchR{ex5a}{epds,epdc,epcmp,epkc,epca}
\branchR{epds}{epdsa,epdsb,epdsc,epss}
\branchR{epss}{epssa,epssb,epssc}
\branchR{epdc}{euse,echr,erev}
\branchR{euse}{eusea,euseb}
\branchR{echr}{echra,echrb}
\branchR{erev}{ereva,erevb,erevc,erevd}
\branchR{epcmp}{epker,epx}
\branchR{epker}{epkera}
\branchR{epx}{epxa}
\branchR{ealg}{eop,ekeys,eway,eprod}
\branchR{eop}{eopa,eopb}
\branchR{ekeys}{ekeysa,ekeysb}
\branchR{eway}{ewaya,ewayb}
\branchR{eprod}{eproda,eprodb,eprodc,eprodd,eprode,eprodf,etyp}
\branchR{etyp}{efpc,enfpc}
\branchR{efpc}{efpca}
\branchR{enfpc}{enfpca}
\branchR{ecd}{econf,ediff}
\branchR{econf}{econfa}
\branchR{ediff}{ediffa}
\branchR{eat}{eata,eatb,eatc,eatd,eate}
\branchR{eam}{eama,eamb}
\branchR{authp}{a4}
\branchR{acrp}{a611}

% ---------------- connectors, left side ----------------
\branchL{snpp}{s0,sfw,sem,sweb,sint,swl}
\branchL{sfw}{sss,sctl,scap,slim,styp,sbh,smal}
\branchL{sss}{sssa}
\branchL{sctl}{sctla,sctlb,sctlc,sctld}
\branchL{scap}{sess,soth}
\branchL{sess}{sessa,sessb}
\branchL{soth}{sotha,sothb}
\branchL{slim}{slima,slimb,slimc}
\branchL{styp}{spff,sclf,salf}
\branchL{spff}{spro,scon,satt,scfg}
\branchL{spro}{sproa,sprob,sproc}
\branchL{scon}{scona,sconb}
\branchL{satt}{satta,sattb}
\branchL{scfg}{scfga,scfgb}
\branchL{sclf}{sclfa,sclfb,sclfc}
\branchL{salf}{salfp,salfc,salfd,salfe}
\branchL{salfp}{salfpa,salfpb,salfpc}
\branchL{salfc}{salfca}
\branchL{sbh}{sbha,sbhb}
\branchL{smal}{smala,smalb,smalc,smald,smale,smalf,smalg}
\branchL{sem}{spgp,ssmime}
\branchL{spgp}{spgpa,spgpb,ssec,sesv,stech,skkr,skdm,scert,sintr,strust}
\branchL{ssec}{ssconf,ssint,ssmoa,sstim}
\branchL{ssconf}{ssconfa}
\branchL{ssint}{ssinta}
\branchL{ssmoa}{ssmoaa}
\branchL{sstim}{sstima}
\branchL{sesv}{scomp,sesvb,sesvc}
\branchL{scomp}{scompa}
\branchL{stech}{stecha,stechb,stechc,stechd}
\branchL{skkr}{skkra,skkrb,skkrc,skkrd}
\branchL{skdm}{skdma,skdmb,skdmc}
\branchL{scert}{scerta}
\branchL{sintr}{sintra}
\branchL{strust}{strusta,strustb,strustc}
\branchL{ssmime}{ssmimea,salg}
\branchL{salg}{smd,sds,sske,sppk}
\branchL{smd}{smda,smdb}
\branchL{sds}{sdsa}
\branchL{sske}{sskea,sskeb}
\branchL{sppk}{sppka,sppkb}
\branchL{sweb}{scsc,sucs,swsc,sssl,sips,svpn}
\branchL{scsc}{scsca,scscb,scscc,scscd,scsce}
\branchL{sssl}{stss,sssl2,stls,scrd,scp,show}
\branchL{stss}{stconf,stint,stea,stmoa,stnr,sttim}
\branchL{stconf}{stconfa}
\branchL{stint}{stinta}
\branchL{stea}{steaa}
\branchL{sttim}{sttima}
\branchL{sssl2}{sssl2a}
\branchL{stls}{stlsa}
\branchL{scp}{scpa,scpb}
\branchL{scpa}{scpaa}
\branchL{scpb}{scpba}
\branchL{sips}{sipsa,sipss,smod,sprot,sialg,sdak,sben}
\branchL{sipss}{sipssa,sipssb,sipssc,sipssd,sipsse,sipssf}
\branchL{smod}{smoda,smodb}
\branchL{sprot}{sprota,sprotb}
\branchL{sialg}{sienc,siauth}
\branchL{sienc}{sienca,src5,siencc,sie4,sie5,sie6}
\branchL{src5}{src5a}
\branchL{siauth}{siautha,siauthb}
\branchL{sdak}{sdaka,sdakb}
\branchL{sben}{sbena,sbenb,sbenc}
\branchL{svpn}{svpna,sef}
\branchL{sef}{stun,ssecu}
\branchL{stun}{stuna}
\branchL{ssecu}{ssecua,ssecub,ssecuc}
\branchL{sint}{spw}
\branchL{spw}{spwa,spwb,sprt}
\branchL{sprt}{ssalt}
\branchL{ssalt}{ssalta,ssaltb,ssaltc}
\branchL{swl}{swben,sdis,scsma,swls,seth,sorg,scwp,stoa,sass}
\branchL{swben}{swbena,swbenb,swbenc}
\branchL{sdis}{sdisa,sdisb}
\branchL{scsma}{scsmaa}
\branchL{swls}{sieee}
\branchL{sieee}{sieeea}
\branchL{seth}{setha}
\branchL{sorg}{sorga,sorgb,sorgc}
\branchL{scwp}{scwpa,snt,sauth}
\branchL{snt}{snta,s1ap,smap}
\branchL{s1ap}{sbss}
\branchL{sbss}{sbssa}
\branchL{smap}{sesx}
\branchL{sesx}{sesxa}
\branchL{sauth}{sopen,sshr}
\branchL{sshr}{swep,swpa,swpa2,sssid}
\branchL{swep}{swepa,swprb}
\branchL{swprb}{swprba,swprbb,swprbc}
\branchL{swpa}{swpaa,swpab}
\branchL{sssid}{sssida}
\branchL{stoa}{stoaa,stoab,stoac}
\branchL{sass}{sassa,sassb,sassc,sstg}
\branchL{sstg}{sstga,sstgb,sstgc}

% ---------------- collapse knobs ----------------
\foreach \n in {sg,enc,auth,acr} \pic at ([xshift=3.3pt]\n.east) {knob};
\pic at ([xshift=-3.3pt]snp.west) {knob};
\foreach \n in {gmaj,gconf,ginteg,gavail,gmin,gent,gmoa,gnr,gdest,gtim,gac,gaut,
  einp,ecry,eamp,eterm,ecip,eatt,ebfa,esym,eov,ess,efei,edes,e3des,eaes,estep,ecbm,eecb,ecbc,
  eiss,ekm,ekdc,ekrb,ereq,ekss,eske,edh,ekg,etrng,etrue,eprng,easym,eass,eapp,eds,eint,ehf,
  ekey,emac,ehc,ehs,enr,edsapp,edhm,enba,emitm,ex509,ex509app,esmime,essl,eset,ehist,ecae,
  epki,ex5a,epds,epss,epdc,euse,echr,erev,epcmp,epker,epx,ealg,eop,ekeys,eway,eprod,etyp,
  efpc,enfpc,ecd,econf,ediff,eat,eam}
  \pic at ([xshift=3.8pt]\n.east) {knob};
\foreach \n in {sfw,sss,sctl,scap,sess,soth,slim,styp,spff,spro,scon,satt,scfg,sclf,salf,
  salfp,salfc,sbh,smal,sem,spgp,ssec,ssconf,ssint,ssmoa,sstim,sesv,scomp,stech,skkr,skdm,
  scert,sintr,strust,ssmime,salg,smd,sds,sske,sppk,sweb,scsc,sssl,stss,stconf,stint,stea,
  sttim,sssl2,stls,scp,scpa,scpb,sips,sipss,smod,sprot,sialg,sienc,src5,siauth,sdak,sben,
  svpn,sef,stun,ssecu,sint,spw,sprt,ssalt,swl,swben,sdis,scsma,swls,sieee,seth,sorg,scwp,
  snt,s1ap,sbss,smap,sesx,sauth,sshr,swep,swprb,swpa,sssid,stoa,sass,sstg}
  \pic at ([xshift=-3.8pt]\n.west) {knob};

\end{tikzpicture}
\end{document}
